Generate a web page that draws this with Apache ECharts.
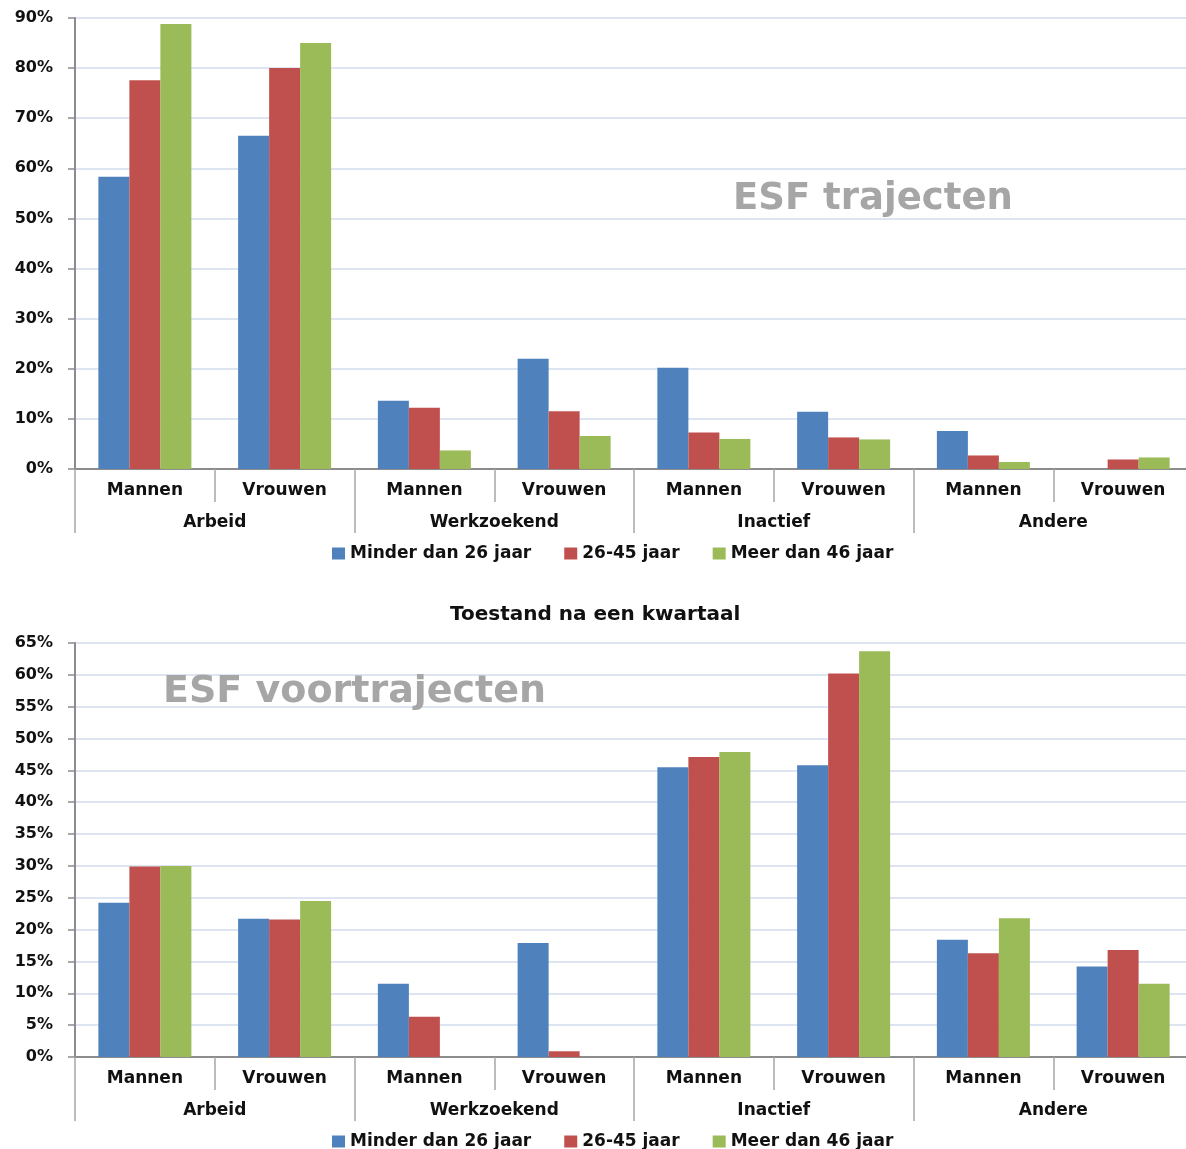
<!DOCTYPE html>
<html>
<head>
<meta charset="utf-8">
<script src="https://cdn.jsdelivr.net/npm/echarts@6/dist/echarts.min.js"></script>
<style>
html,body{margin:0;padding:0;background:#fff;}
#chart{width:1186px;height:1149px;}
</style>
</head>
<body>
<div id="chart"></div>
<script>
const categories = ['Mannen','Vrouwen','Mannen','Vrouwen','Mannen','Vrouwen','Mannen','Vrouwen'];
const groups = ['Arbeid','Werkzoekend','Inactief','Andere'];
const seriesNames = ['Minder dan 26 jaar','26-45 jaar','Meer dan 46 jaar'];
const topTicksMax = 90, topTicksStep = 10;
const bottomTicksMax = 65, bottomTicksStep = 5;

// ESF trajecten (top)
const trajMinder = [58.3, 66.5, 13.6, 22.0, 20.2, 11.4, 7.6, null];
const trajMidden = [77.6, 80.0, 12.2, 11.5, 7.3, 6.3, 2.7, 1.9];
const trajMeer   = [88.8, 85.0, 3.7, 6.6, 6.0, 5.9, 1.4, 2.3];

// ESF voortrajecten (bottom)
const voorMinder = [24.2, 21.7, 11.5, 17.9, 45.5, 45.8, 18.4, 14.2];
const voorMidden = [29.9, 21.6, 6.3, 0.9, 47.1, 60.2, 16.3, 16.8];
const voorMeer   = [30.0, 24.5, null, null, 47.9, 63.7, 21.8, 11.5];

const titleText = 'Toestand na een kwartaal';
const watermarkTop = 'ESF trajecten';
const watermarkBottom = 'ESF voortrajecten';

const colors = ['#4f81bd', '#c0504d', '#9bbb59'];
const FONT = '"DejaVu Sans", Verdana, sans-serif';
const axisGray = '#8c8c8c';
const gridColor = '#d3dcee';

const chart = echarts.init(document.getElementById('chart'), null, {renderer: 'canvas'});

function catAxis(gridIndex) {
  return {
    type: 'category', gridIndex, data: categories, boundaryGap: true,
    axisLine: {show: true, lineStyle: {color: axisGray, width: 2}},
    axisTick: {show: true, interval: 0, length: 33, lineStyle: {color: '#a6a6a6', width: 1.5}},
    axisLabel: {interval: 0, margin: 13, color: '#111', fontFamily: FONT, fontWeight: 'bold', fontSize: 17}
  };
}
function groupAxis(gridIndex) {
  return {
    type: 'category', gridIndex, data: groups, boundaryGap: true, position: 'bottom', offset: 33,
    axisLine: {show: false},
    axisTick: {show: true, interval: 0, length: 31, lineStyle: {color: '#a6a6a6', width: 1.5}},
    axisLabel: {interval: 0, margin: 12, color: '#111', fontFamily: FONT, fontWeight: 'bold', fontSize: 17}
  };
}
function valAxis(gridIndex, max, step) {
  return {
    type: 'value', gridIndex, min: 0, max, interval: step,
    axisLine: {show: true, lineStyle: {color: axisGray, width: 2}},
    axisTick: {show: true, length: 7, lineStyle: {color: axisGray, width: 1.5}},
    axisLabel: {formatter: '{value}%', margin: 22, color: '#111', fontFamily: FONT, fontWeight: 'bold', fontSize: 16},
    splitLine: {show: true, lineStyle: {color: gridColor, width: 1.5}}
  };
}
function bar(name, data, xi, yi, ci) {
  return {
    name, type: 'bar', xAxisIndex: xi, yAxisIndex: yi, data,
    barWidth: 31, barGap: '0%',
    itemStyle: {color: colors[ci]},
    emphasis: {disabled: true}
  };
}
function legend(top) {
  return {
    top, left: 327, itemWidth: 13, itemHeight: 12, itemGap: 33, icon: 'rect',
    data: seriesNames,
    textStyle: {color: '#111', fontFamily: FONT, fontWeight: 'bold', fontSize: 17}
  };
}

chart.setOption({
  animation: false,
  color: colors,
  title: {
    text: titleText, left: 445, top: 600,
    textStyle: {color: '#111', fontFamily: FONT, fontWeight: 'bold', fontSize: 20}
  },
  legend: [legend(540), legend(1128)],
  grid: [
    {left: 75, width: 1118, top: 18, height: 451, outerBoundsMode: 'none', containLabel: false},
    {left: 75, width: 1118, top: 643, height: 414, outerBoundsMode: 'none', containLabel: false}
  ],
  xAxis: [catAxis(0), groupAxis(0), catAxis(1), groupAxis(1)],
  yAxis: [valAxis(0, topTicksMax, topTicksStep), valAxis(1, bottomTicksMax, bottomTicksStep)],
  series: [
    bar(seriesNames[0], trajMinder, 0, 0, 0),
    bar(seriesNames[1], trajMidden, 0, 0, 1),
    bar(seriesNames[2], trajMeer, 0, 0, 2),
    bar(seriesNames[0], voorMinder, 2, 1, 0),
    bar(seriesNames[1], voorMidden, 2, 1, 1),
    bar(seriesNames[2], voorMeer, 2, 1, 2)
  ],
  graphic: [
    {type: 'text', left: 733, top: 181, z: 10,
     style: {text: watermarkTop, fill: '#a6a6a6', font: 'bold 37px ' + FONT}},
    {type: 'text', left: 163, top: 673, z: 10,
     style: {text: watermarkBottom, fill: '#a6a6a6', font: 'bold 38px ' + FONT}}
  ]
});
</script>
</body>
</html>
